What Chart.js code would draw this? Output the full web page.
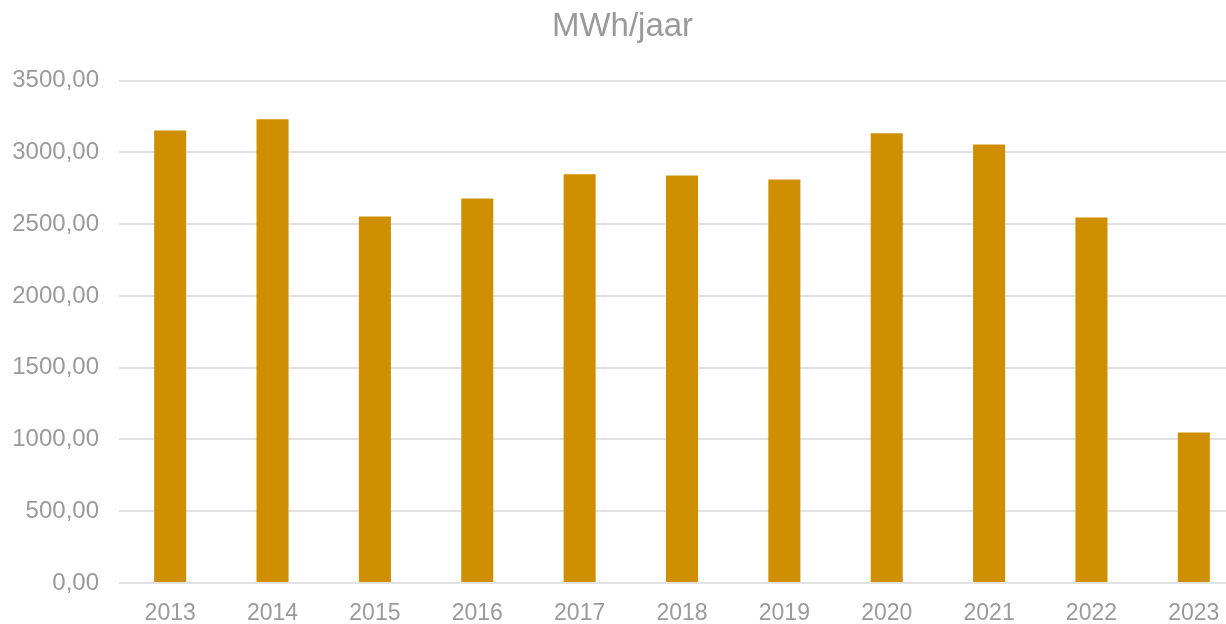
<!DOCTYPE html>
<html>
<head>
<meta charset="utf-8">
<script src="https://cdn.jsdelivr.net/npm/chart.js@4"></script>
<style>
    html, body { margin: 0; padding: 0; background: #fff; overflow: hidden; }
    #wrap { width: 1268px; height: 624px; }
</style>
</head>
<body>
<div id="wrap"><canvas id="myChart" width="1268" height="624"></canvas></div>
<script>
// chart data
const years = ['2013', '2014', '2015', '2016', '2017', '2018', '2019', '2020', '2021', '2022', '2023'];
const mwhPerYear = [3152, 3231, 2554, 2679, 2848, 2839, 2811, 3133, 3055, 2547, 1048];
const yTicks = [0, 500, 1000, 1500, 2000, 2500, 3000, 3500];

const textGrey = '#9a9a9a';

const data = {
    labels: years,
    datasets: [{
        label: 'MWh/jaar',
        data: mwhPerYear,
        backgroundColor: '#cf8f00',
        borderWidth: 0,
        barPercentage: 1,
        categoryPercentage: 0.313
    }]
};

const config = {
    type: 'bar',
    data: data,
    options: {
        responsive: false,
        animation: false,
        layout: {
            padding: { top: 7, right: 23, bottom: 0, left: 0 }
        },
        plugins: {
            legend: { display: false },
            tooltip: { enabled: false },
            title: {
                display: true,
                text: 'MWh/jaar',
                color: textGrey,
                font: { family: 'Liberation Sans', size: 33, weight: 'normal' },
                padding: { top: 0, bottom: 34 }
            }
        },
        scales: {
            x: {
                afterFit: (scale) => { scale.height = 41; },
                grid: { display: false, drawTicks: false },
                border: { display: false },
                ticks: {
                    color: textGrey,
                    font: { family: 'Liberation Sans', size: 23 },
                    padding: 17
                }
            },
            y: {
                min: 0,
                max: 3500,
                afterBuildTicks: (scale) => {
                    scale.ticks = yTicks.map(v => ({ value: v }));
                },
                afterFit: (scale) => { scale.width = 119; },
                grid: { color: '#e2e2e2', lineWidth: 2, drawTicks: false },
                border: { display: false },
                ticks: {
                    color: textGrey,
                    font: { family: 'Liberation Sans', size: 24 },
                    padding: 20,
                    callback: (v) => v.toFixed(2).replace('.', ',')
                }
            }
        }
    }
};

const myChart = new Chart(document.getElementById('myChart'), config);
</script>
</body>
</html>
